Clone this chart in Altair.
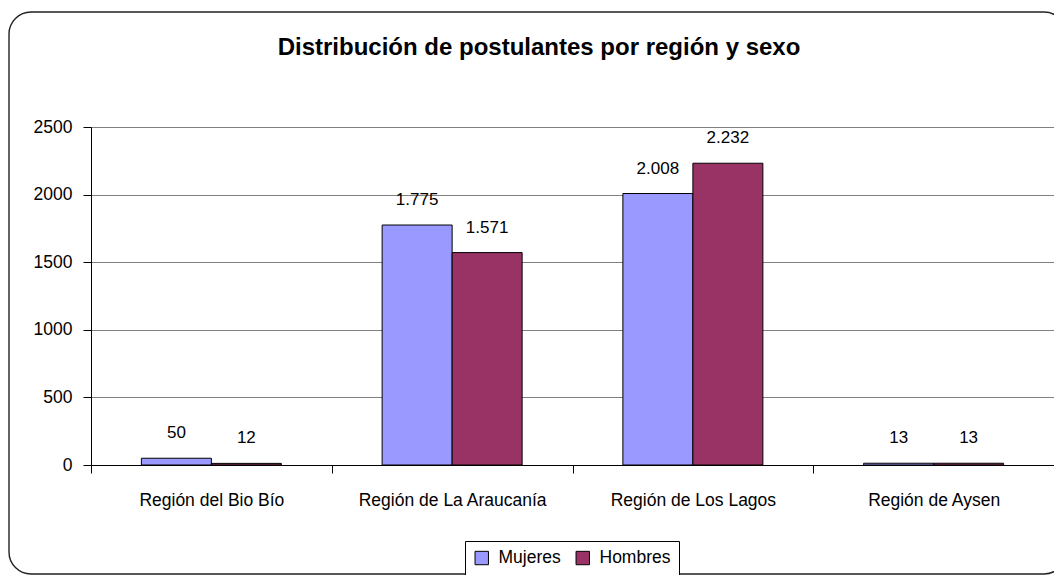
import altair as alt
import pandas as pd

regions = ["Región del Bio Bío", "Región de La Araucanía", "Región de Los Lagos", "Región de Aysen"]
mujeres = [50, 1775, 2008, 13]
hombres = [12, 1571, 2232, 13]
series = ["Mujeres", "Hombres"]
colors = ["#9999FF", "#993366"]
y_ticks = [0, 500, 1000, 1500, 2000, 2500]
title_text = "Distribución de postulantes por región y sexo"

rows = []
for r, m, h in zip(regions, mujeres, hombres):
    rows.append({"region": r, "sexo": "Mujeres", "valor": m})
    rows.append({"region": r, "sexo": "Hombres", "valor": h})
df = pd.DataFrame(rows)

FONT = "Liberation Sans"

x_enc = alt.X(
    "region:N", sort=regions,
    scale=alt.Scale(paddingInner=0, paddingOuter=0),
    axis=alt.Axis(title=None, tickBand="extent", labelAngle=0, labelFont=FONT,
                  labelFontSize=17.5, labelColor="black", domainColor="black",
                  tickColor="black", tickSize=8, labelPadding=32, labelLimit=0,
                  labelBaseline="alphabetic", grid=False),
)
xoff = alt.XOffset("sexo:N", sort=series, scale=alt.Scale(paddingInner=0, paddingOuter=0.72))
y_enc = alt.Y(
    "valor:Q",
    scale=alt.Scale(domain=[0, 2500], nice=False),
    axis=alt.Axis(values=y_ticks, format="d", title=None, labelFont=FONT, labelFontSize=17.5,
                  labelColor="black", domainColor="black", tickColor="black",
                  tickSize=8, labelPadding=11, gridColor="#808080", gridWidth=1),
)

frame = alt.Chart(pd.DataFrame({"f": [0]})).mark_rect(
    fill="transparent", stroke="#222222", strokeWidth=1.4, cornerRadius=22
).encode(x=alt.value(-82), x2=alt.value(975), y=alt.value(-115), y2=alt.value(447))

title = alt.Chart(pd.DataFrame({"f": [0]})).mark_text(
    font=FONT, fontSize=24, fontWeight="bold", color="black", align="center",
    baseline="alphabetic"
).encode(x=alt.value(448), y=alt.value(-72), text=alt.value(title_text))

base = alt.Chart(df)

bars = base.mark_bar(stroke="black", strokeWidth=1).encode(
    x=x_enc, xOffset=xoff, y=y_enc,
    color=alt.Color(
        "sexo:N", sort=series,
        scale=alt.Scale(domain=series, range=colors),
        legend=alt.Legend(orient="none", legendX=374, legendY=414, direction="horizontal",
                          title=None, strokeColor="black", fillColor="white", padding=8,
                          symbolType="square", symbolSize=180, symbolStrokeColor="black",
                          symbolStrokeWidth=1, symbolOpacity=1, labelFont=FONT,
                          labelFontSize=17.5, labelColor="black", columnPadding=13,
                          labelOffset=8),
    ),
)

labels = base.transform_calculate(
    lbl="replace(format(datum.valor, ','), ',', '.')"
).mark_text(font=FONT, fontSize=17, color="black", baseline="alphabetic", dy=-20).encode(
    x=alt.X("region:N", sort=regions), xOffset=alt.XOffset("sexo:N", sort=series),
    y="valor:Q", text="lbl:N",
)

chart = alt.layer(frame, title, bars, labels).properties(
    width=963, height=338,
    autosize=alt.AutoSizeParams(type="none"),
    padding={"left": 83, "top": 119, "right": 0, "bottom": 110},
).configure_view(stroke="#808080", strokeWidth=1)

chart.save("out.html", embed_options={"renderer": "svg", "actions": False})
